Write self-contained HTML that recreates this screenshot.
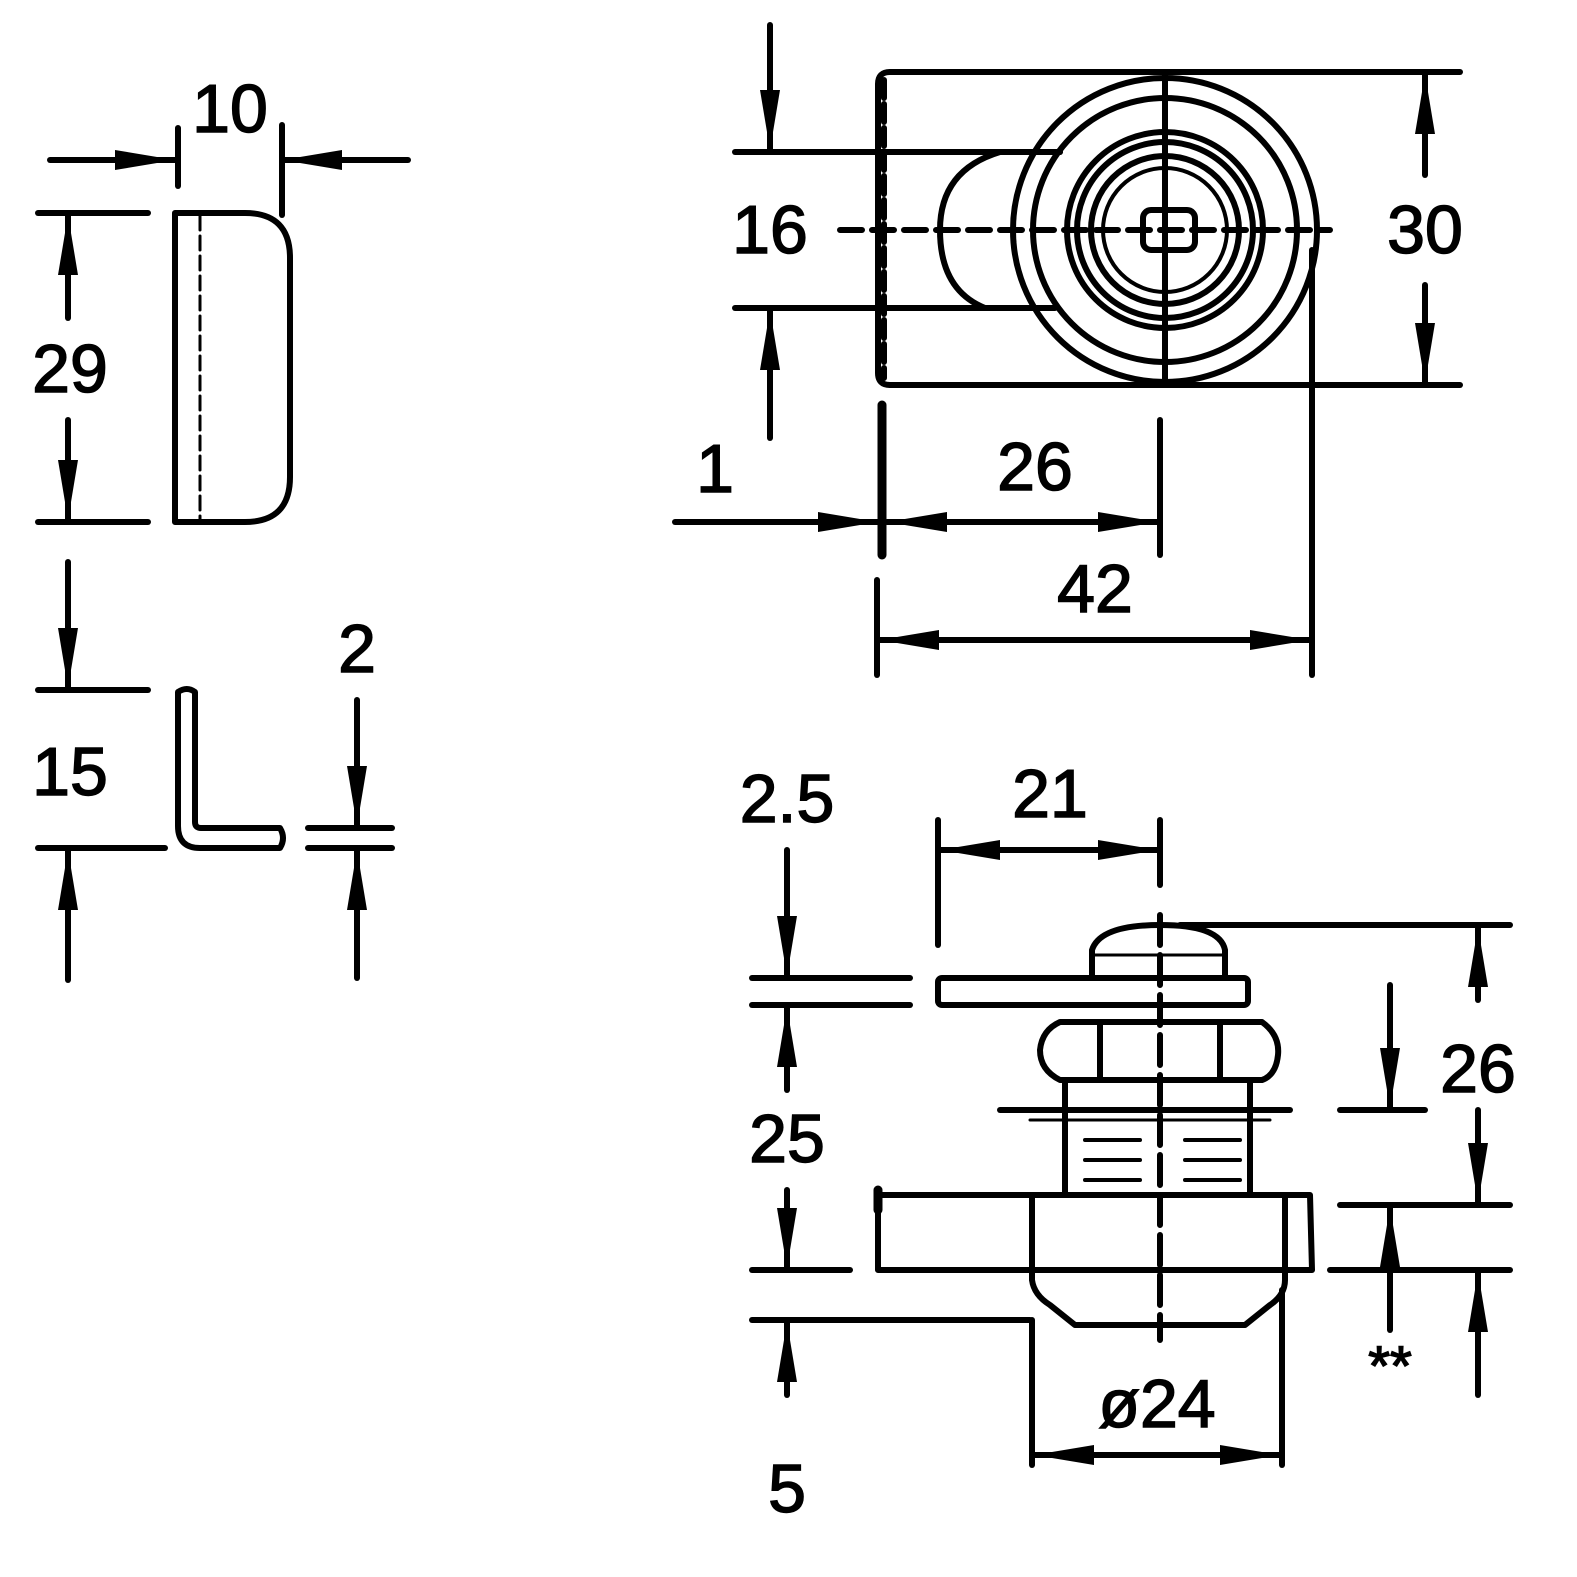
<!DOCTYPE html>
<html><head><meta charset="utf-8"><style>
html,body{margin:0;padding:0;background:#fff}
svg{display:block}
text{font-family:"Liberation Sans",sans-serif;font-size:68px;fill:#000;stroke:#000;stroke-width:1.5px;text-anchor:middle}
</style></head><body>
<svg width="1577" height="1577" viewBox="0 0 1577 1577" xmlns="http://www.w3.org/2000/svg">
<defs>
<marker id="a" markerUnits="userSpaceOnUse" markerWidth="62" markerHeight="24" refX="60" refY="12" orient="auto">
<path d="M0,2 L60,12 L0,22 Z" fill="#000"/>
</marker>
</defs>
<g stroke="#000" stroke-width="6" fill="none" stroke-linecap="round" stroke-linejoin="round">
<line x1="50" y1="160" x2="175" y2="160" marker-end="url(#a)"/>
<line x1="408" y1="160" x2="282" y2="160" marker-end="url(#a)"/>
<line x1="178" y1="128" x2="178" y2="186"/>
<line x1="282" y1="125" x2="282" y2="215"/>
<path d="M175,213 L245,213 Q290,213 290,258 L290,477 Q290,522 245,522 L175,522 Z"/>
<line x1="200" y1="216" x2="200" y2="520" stroke-dasharray="14,6" stroke-width="3"/>
<line x1="38" y1="213" x2="148" y2="213"/>
<line x1="38" y1="522" x2="148" y2="522"/>
<line x1="68" y1="318" x2="68" y2="215" marker-end="url(#a)"/>
<line x1="68" y1="420" x2="68" y2="520" marker-end="url(#a)"/>
<line x1="68" y1="562" x2="68" y2="688" marker-end="url(#a)"/>
<line x1="38" y1="690" x2="148" y2="690"/>
<line x1="38" y1="848" x2="165" y2="848"/>
<line x1="68" y1="980" x2="68" y2="850" marker-end="url(#a)"/>
<path d="M178,692 Q187,686 195,692 L195,822 Q195,828 201,828 L280,828 Q286,838 280,848 L200,848 Q178,848 178,826 Z"/>
<line x1="357" y1="700" x2="357" y2="826" marker-end="url(#a)"/>
<line x1="308" y1="828" x2="392" y2="828"/>
<line x1="308" y1="848" x2="392" y2="848"/>
<line x1="357" y1="978" x2="357" y2="850" marker-end="url(#a)"/>

<path d="M890,72 L1460,72"/>
<path d="M890,385 L1460,385"/>
<path d="M890,72 Q878,72 878,84 L878,373 Q878,385 890,385"/>
<line x1="884" y1="80" x2="884" y2="378" stroke-dasharray="18,6" stroke-width="6"/>
<circle cx="1165" cy="230" r="152"/>
<circle cx="1165" cy="230" r="132"/>
<circle cx="1165" cy="230" r="98"/>
<circle cx="1165" cy="230" r="88"/>
<circle cx="1165" cy="230" r="74"/>
<circle cx="1165" cy="230" r="62" stroke-width="4"/>
<rect x="1143" y="210" width="52" height="40" rx="8"/>
<line x1="1165" y1="72" x2="1165" y2="385"/>
<path d="M1060,152 L1000,152 Q940,170 940,230 Q940,290 985,308 L1055,308"/>
<line x1="735" y1="152" x2="1060" y2="152"/>
<line x1="735" y1="308" x2="985" y2="308"/>
<line x1="770" y1="25" x2="770" y2="150" marker-end="url(#a)"/>
<line x1="770" y1="438" x2="770" y2="310" marker-end="url(#a)"/>
<line x1="840" y1="230" x2="1330" y2="230" stroke-dasharray="22,10"/>
<line x1="1425" y1="175" x2="1425" y2="74" marker-end="url(#a)"/>
<line x1="1425" y1="285" x2="1425" y2="383" marker-end="url(#a)"/>
<line x1="1312" y1="250" x2="1312" y2="675"/>
<line x1="882" y1="405" x2="882" y2="555" stroke-width="9"/>
<line x1="675" y1="522" x2="878" y2="522" marker-end="url(#a)"/>
<line x1="950" y1="522" x2="887" y2="522" marker-end="url(#a)"/>
<line x1="950" y1="522" x2="1158" y2="522" marker-end="url(#a)"/>
<line x1="1160" y1="420" x2="1160" y2="555"/>
<line x1="877" y1="580" x2="877" y2="675"/>
<line x1="1000" y1="640" x2="879" y2="640" marker-end="url(#a)"/>
<line x1="1000" y1="640" x2="1310" y2="640" marker-end="url(#a)"/>

<line x1="787" y1="850" x2="787" y2="976" marker-end="url(#a)"/>
<line x1="752" y1="978" x2="910" y2="978"/>
<line x1="752" y1="1005" x2="910" y2="1005"/>
<line x1="787" y1="1090" x2="787" y2="1007" marker-end="url(#a)"/>
<line x1="787" y1="1190" x2="787" y2="1268" marker-end="url(#a)"/>
<line x1="752" y1="1270" x2="850" y2="1270"/>
<line x1="752" y1="1320" x2="1030" y2="1320"/>
<line x1="787" y1="1395" x2="787" y2="1322" marker-end="url(#a)"/>
<line x1="938" y1="820" x2="938" y2="945"/>
<line x1="1160" y1="820" x2="1160" y2="885"/>
<line x1="1050" y1="850" x2="940" y2="850" marker-end="url(#a)"/>
<line x1="1050" y1="850" x2="1158" y2="850" marker-end="url(#a)"/>
<path d="M1092,978 L1092,950 Q1100,925 1160,925 Q1220,925 1225,950 L1225,978"/>
<line x1="1092" y1="955" x2="1225" y2="955" stroke-width="3"/>
<rect x="938" y="978" width="310" height="27" rx="4"/>
<path d="M1060,1022 L1262,1022 Q1280,1035 1278,1055 Q1276,1075 1262,1080 L1060,1080 Q1040,1070 1040,1050 Q1042,1030 1060,1022 Z"/>
<line x1="1100" y1="1025" x2="1100" y2="1080"/>
<line x1="1220" y1="1025" x2="1220" y2="1080"/>
<line x1="1065" y1="1080" x2="1065" y2="1195"/>
<line x1="1250" y1="1080" x2="1250" y2="1195"/>
<line x1="1000" y1="1110" x2="1290" y2="1110"/>
<line x1="1030" y1="1120" x2="1270" y2="1120" stroke-width="3"/>
<g stroke-width="4">
<line x1="1085" y1="1140" x2="1140" y2="1140"/><line x1="1185" y1="1140" x2="1240" y2="1140"/>
<line x1="1085" y1="1160" x2="1140" y2="1160"/><line x1="1185" y1="1160" x2="1240" y2="1160"/>
<line x1="1085" y1="1180" x2="1140" y2="1180"/><line x1="1185" y1="1180" x2="1240" y2="1180"/>
</g>
<path d="M878,1195 L1310,1195 L1312,1270 L878,1270 Z"/>
<line x1="878" y1="1190" x2="878" y2="1210" stroke-width="9"/>
<path d="M1032,1195 L1032,1280 Q1034,1295 1050,1305 L1075,1325 L1245,1325 L1270,1305 Q1285,1295 1285,1280 L1285,1195"/>
<line x1="1160" y1="915" x2="1160" y2="1340" stroke-dasharray="30,10"/>
<line x1="1032" y1="1320" x2="1032" y2="1465"/>
<line x1="1282" y1="1290" x2="1282" y2="1465"/>
<line x1="1155" y1="1455" x2="1034" y2="1455" marker-end="url(#a)"/>
<line x1="1155" y1="1455" x2="1280" y2="1455" marker-end="url(#a)"/>
<line x1="1180" y1="925" x2="1510" y2="925"/>
<line x1="1478" y1="1000" x2="1478" y2="927" marker-end="url(#a)"/>
<line x1="1478" y1="1110" x2="1478" y2="1203" marker-end="url(#a)"/>
<line x1="1340" y1="1205" x2="1510" y2="1205"/>
<line x1="1330" y1="1270" x2="1510" y2="1270"/>
<line x1="1478" y1="1395" x2="1478" y2="1272" marker-end="url(#a)"/>
<line x1="1390" y1="985" x2="1390" y2="1108" marker-end="url(#a)"/>
<line x1="1340" y1="1110" x2="1425" y2="1110"/>
<line x1="1390" y1="1330" x2="1390" y2="1207" marker-end="url(#a)"/>
</g>
<g>
<text x="230" y="132">10</text>
<text x="70" y="392">29</text>
<text x="70" y="795">15</text>
<text x="357" y="672">2</text>
<text x="770" y="253">16</text>
<text x="1425" y="253">30</text>
<text x="715" y="492">1</text>
<text x="1035" y="490">26</text>
<text x="1095" y="612">42</text>
<text x="787" y="822">2.5</text>
<text x="1050" y="817">21</text>
<text x="787" y="1162">25</text>
<text x="1478" y="1092">26</text>
<text x="787" y="1512">5</text>
<text x="1157" y="1427">ø24</text>
<text x="1390" y="1385" style="font-size:56px">**</text>
</g>
</svg>
</body></html>
